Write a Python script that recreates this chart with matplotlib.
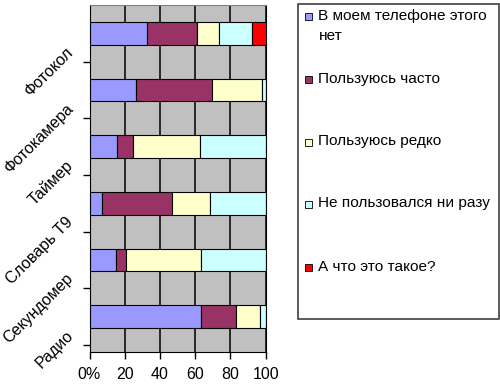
import matplotlib
matplotlib.use("Agg")
import matplotlib.pyplot as plt
import matplotlib.transforms as mtransforms
from matplotlib.patches import Rectangle
import numpy as np

plt.rcParams['font.family'] = ['Liberation Sans', 'DejaVu Sans']

# categories, top to bottom
categories = ['Фотокол', 'Фотокамера', 'Таймер', 'Словарь Т9', 'Секундомер', 'Радио']
series_names = ['В моем телефоне этого\nнет', 'Пользуюсь часто', 'Пользуюсь редко',
                'Не пользовался ни разу', 'А что это такое?']
colors = ['#9999FF', '#993366', '#FFFFCC', '#CCFFFF', '#FF0000']

# percentages per series (same order as categories)
no_feature = [32.8, 26.6, 15.6, 7.3, 14.9, 63.5]
often = [28.4, 42.7, 8.9, 39.5, 6.0, 19.5]
rarely = [12.5, 28.4, 38.0, 21.8, 42.2, 13.6]
never = [18.7, 2.3, 37.5, 31.4, 36.9, 3.4]
what_is_it = [7.6, 0.0, 0.0, 0.0, 0.0, 0.0]
series = [no_feature, often, rarely, never, what_is_it]

xticks = [0, 20, 40, 60, 80, 100]
xticklabels = ['0%', '20', '40', '60', '80', '100']

W, H = 500, 386
fig = plt.figure(figsize=(W / 100, H / 100), dpi=100)
ax = fig.add_axes([89.5 / W, 1 - 352 / H, (265.7 - 89.5) / W, (352 - 5) / H])
ax.set_facecolor('#C0C0C0')

y = np.arange(len(categories))
left = np.zeros(len(categories))
for vals, col in zip(series, colors):
    vals = np.array(vals)
    ax.barh(y, vals, left=left, height=0.4, color=col, edgecolor='black',
            linewidth=0.8, zorder=3)
    left += vals

ax.set_xlim(0, 100)
ax.set_ylim(5.627, -0.504)

# vertical gridlines
for xv in xticks[1:]:
    ax.axvline(xv, color='black', linewidth=1.1, zorder=1)

ax.set_xticks(xticks)
ax.set_xticklabels(xticklabels, fontsize=11.5)
ax.tick_params(axis='x', direction='out', length=5, width=1, pad=6)

ax.set_yticks(y)
ax.set_yticklabels(categories, fontsize=11.5, rotation=45, ha='right', va='top',
                   rotation_mode='anchor')
ax.tick_params(axis='y', which='major', length=0, pad=0)
ax.set_yticks(np.arange(0.5, len(categories), 1), minor=True)
ax.tick_params(axis='y', which='minor', direction='out', length=5, width=1)
offset = mtransforms.ScaledTranslation(-0.24, -0.11, fig.dpi_scale_trans)
for lab in ax.get_yticklabels():
    lab.set_transform(lab.get_transform() + offset)

ax.spines['left'].set_color('black')
ax.spines['bottom'].set_color('black')
ax.spines['top'].set_color('#808080')
ax.spines['right'].set_color('black')

# legend drawn by hand to follow the original spacing
fig.patches.append(Rectangle((298 / W, 1 - 319 / H), (499 - 298) / W, (319 - 4) / H,
                             transform=fig.transFigure, facecolor='white',
                             edgecolor='#404040', linewidth=1.2))
row_y = [16.5, 79, 142, 204, 267.5]
for name, col, ry in zip(series_names, colors, row_y):
    fig.patches.append(Rectangle((305 / W, 1 - (ry + 3.5) / H), 7 / W, 7 / H,
                                 transform=fig.transFigure, facecolor=col,
                                 edgecolor='black', linewidth=0.6))
    fig.text(318.5 / W, 1 - (ry - 7.5) / H, name, fontsize=11.1, ha='left', va='top',
             linespacing=1.5)

fig.savefig('out.png', dpi=100)
